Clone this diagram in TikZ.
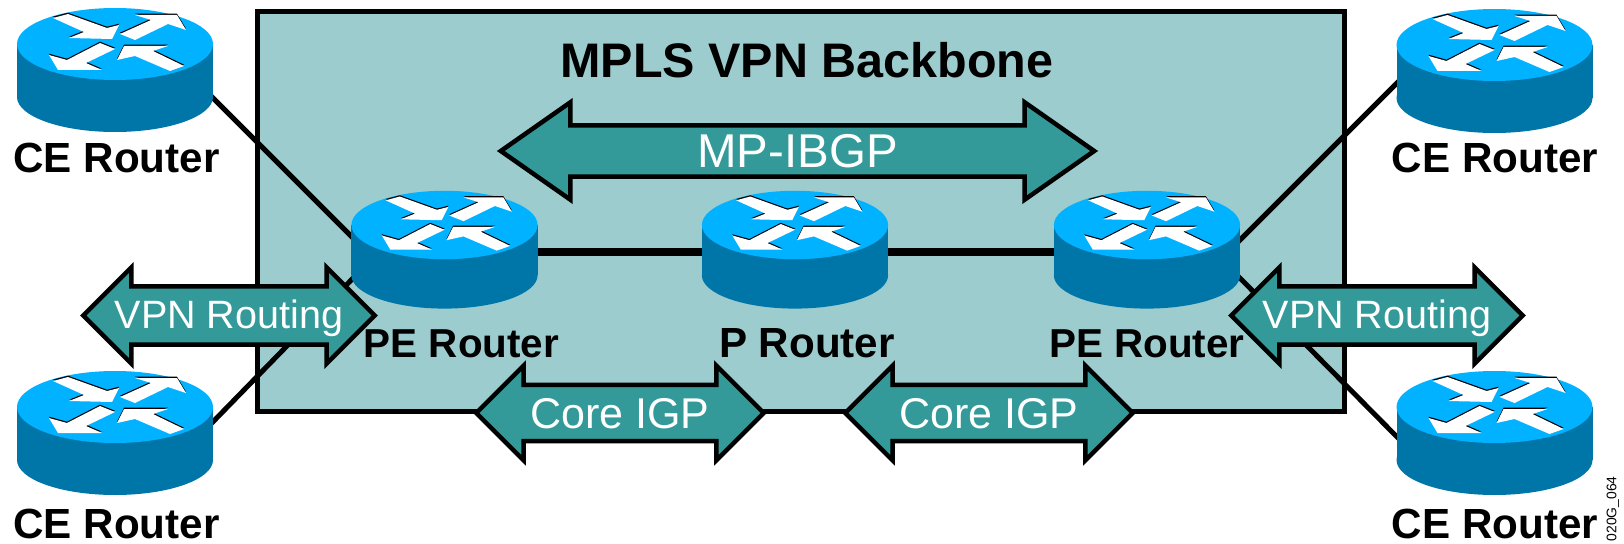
\documentclass[tikz,border=0pt]{standalone}
\usepackage{fontspec}
\setmainfont{Liberation Sans}
\usetikzlibrary{shapes.arrows,backgrounds}
\definecolor{routertop}{HTML}{00B2FF}
\definecolor{routerside}{HTML}{0076A8}
\definecolor{backbone}{HTML}{9CCCCE}
\definecolor{arrowteal}{HTML}{339999}
\newcommand{\sized}[1]{\fontsize{#1}{#1}\selectfont}
\tikzset{
  router/.pic={
    \fill[routerside] (0,53) ellipse [x radius=98, y radius=35];
    \fill[routerside] (-98,0) rectangle (98,53);
    \fill[routertop] (0,0) ellipse [x radius=98, y radius=36];
    \foreach \col/\dy in {black/-1.3, white/0} {
      \fill[\col, shift={(0,\dy)}] (-62,-26) -- (-47,-30) -- (-8,-16) -- (4,-19) -- (-3,-5) -- (-46,-6) -- (-31,-12) -- cycle;
      \fill[\col, shift={(0,\dy)}] (5,-10) -- (36,-24) -- (20,-29) -- (62,-29) -- (71,-14) -- (53,-20) -- (20,-4) -- cycle;
      \fill[\col, shift={(0,\dy)}] (0,5) -- (-15,-1) -- (-48,16) -- (-66,11) -- (-57,26) -- (-13,26) -- (-29,19) -- cycle;
      \fill[\col, shift={(0,\dy)}] (2,16) -- (9,2) -- (53,2) -- (38,7) -- (69,22) -- (55,27) -- (20,12) -- cycle;
    }
    \node[inner sep=0pt] (-c) at (0,0) {};
  },
  routerlabel/.style={anchor=base, inner sep=0pt, font=\sized{24}\bfseries},
  insidelabel/.style={routerlabel, font=\sized{23}\bfseries},
  titlelabel/.style={anchor=base, inner sep=0pt, font=\sized{27.6}\bfseries},
  link/.style={line width=0.1cm},
  corelink/.style={line width=0.15cm},
  bothways/.style={shape=double arrow, draw=black, fill=arrowteal, text=white,
    line width=0.09cm, inner xsep=0pt, inner ysep=0pt, minimum width=0pt,
    double arrow head extend=0.38cm},
  vpnarrow/.style={bothways, minimum height=5.68cm, text height=0.81cm, text depth=0.27cm, font=\sized{22.5}},
  corearrow/.style={bothways, minimum height=5.75cm, text height=0.83cm, text depth=0.21cm, font=\sized{24.5}},
  bgparrow/.style={bothways, minimum height=11.87cm, text height=0.81cm, text depth=0.13cm,
    double arrow tip angle=70, double arrow head extend=0.46cm, font=\sized{27}}
}
\begin{document}
\begin{tikzpicture}[x=0.02cm,y=-0.02cm]
\useasboundingbox (0,0) rectangle (1624,544);
% routers
\pic (ce1) at (115,44) {router};
\pic (ce2) at (115,407) {router};
\pic (ce3) at (1494.5,45) {router};
\pic (ce4) at (1494.5,407) {router};
\pic[scale=0.95] (pe1) at (444.5,225) {router};
\pic[scale=0.95] (p) at (795,225) {router};
\pic[scale=0.95] (pe2) at (1147,225) {router};
% box and links go under the routers
\begin{pgfonlayer}{background}
\node[draw=black, fill=backbone, line width=0.1cm, inner sep=0pt, minimum width=21.76cm, minimum height=8.02cm] (backbone) at (801,211.5) {};
\draw[link] ([shift={(90,46)}]ce1-c.center) -- ([shift={(-84.5,20)}]pe1-c.center);
\draw[link] ([shift={(90,23)}]ce2-c.center) -- ([shift={(-84.5,46)}]pe1-c.center);
\draw[link] ([shift={(-89.5,30)}]ce3-c.center) -- ([shift={(85,23)}]pe2-c.center);
\draw[link] ([shift={(-89.5,38)}]ce4-c.center) -- ([shift={(84,44)}]pe2-c.center);
\draw[corelink] ([shift={(0,27)}]pe1-c.center) -- ([shift={(0,27)}]p-c.center);
\draw[corelink] ([shift={(0,27)}]p-c.center) -- ([shift={(0,27)}]pe2-c.center);
\end{pgfonlayer}
% arrows
\node[bgparrow] (mpibgp) at (797.5,151) {MP-IBGP};
\node[vpnarrow] (vpnleft) at (229,315.5) {VPN Routing};
\node[vpnarrow] (vpnright) at (1377,315.5) {VPN Routing};
\node[corearrow] (coreleft) at (620,413) {Core IGP};
\node[corearrow] (coreright) at (989,413) {Core IGP};
% labels
\node[titlelabel] (title) at (807,78) {MPLS VPN Backbone};
\node[routerlabel] (ce1lab) at (116.5,173) {CE Router};
\node[routerlabel] (ce2lab) at (116.5,538) {CE Router};
\node[routerlabel] (ce3lab) at (1495,173) {CE Router};
\node[routerlabel] (ce4lab) at (1495,538) {CE Router};
\node[insidelabel] (pe1lab) at (461.5,357) {PE Router};
\node[routerlabel] (plab) at (807,357) {P Router};
\node[insidelabel] (pe2lab) at (1147,357) {PE Router};
\node[rotate=90, anchor=east, inner sep=0pt, font=\sized{7.9}] (figid) at (1613,476) {020G\_064};
\end{tikzpicture}
\end{document}
